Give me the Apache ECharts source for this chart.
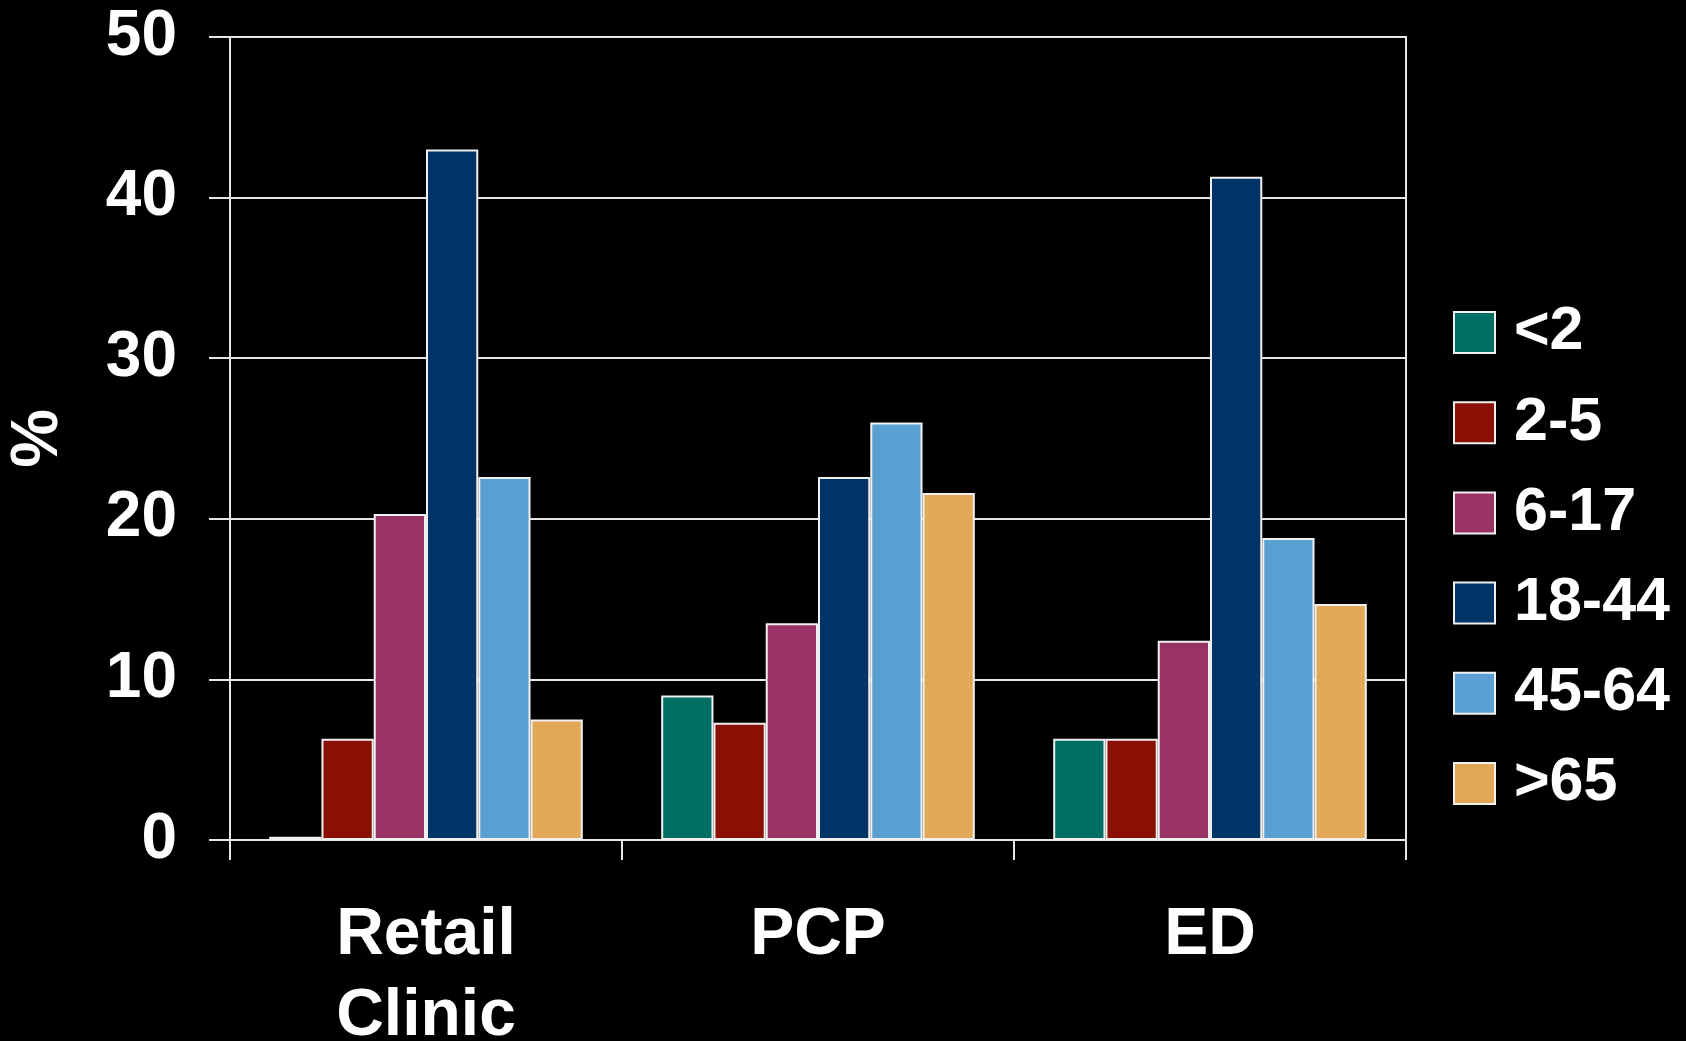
<!DOCTYPE html>
<html>
<head>
<meta charset="utf-8">
<script src="https://cdn.jsdelivr.net/npm/echarts@6/dist/echarts.min.js"></script>
<style>
  html, body { margin: 0; padding: 0; background: #000; }
  #chart { width: 1686px; height: 1041px; }
</style>
</head>
<body>
<div id="chart"></div>
<script>
// Share of visits by patient age group, per care setting (%)
var categories = ['Retail\nClinic', 'PCP', 'ED'];
var ageGroups = ['<2', '2-5', '6-17', '18-44', '45-64', '>65'];

var under2    = [0.2, 9.0, 6.3];
var age2to5   = [6.3, 7.3, 6.3];
var age6to17  = [20.3, 13.5, 12.4];
var age18to44 = [43.0, 22.6, 41.3];
var age45to64 = [22.6, 26.0, 18.8];
var over65    = [7.5, 21.6, 14.7];

var yTicks = { min: 0, max: 50, interval: 10 };

var seriesValues = [under2, age2to5, age6to17, age18to44, age45to64, over65];
var colors = ['#006e63', '#8a1004', '#993366', '#003366', '#5ba0d3', '#e2a858'];

var FONT = '"Liberation Sans", Arial, Helvetica, sans-serif';
var LINE = '#e6e6e6';

var chart = echarts.init(document.getElementById('chart'), null, { renderer: 'canvas' });

chart.setOption({
  backgroundColor: '#000000',
  animation: false,
  grid: {
    left: 230, right: 280, top: 37, bottom: 201,
    show: true, borderColor: LINE, borderWidth: 2, backgroundColor: 'transparent',
    containLabel: false, outerBoundsMode: 'none'
  },
  legend: {
    orient: 'vertical',
    left: 1453, top: 302,
    padding: 0,
    itemWidth: 41, itemHeight: 41, itemGap: 29.2,
    icon: 'rect',
    itemStyle: { borderColor: '#f0f0f0', borderWidth: 2 },
    textStyle: {
      color: '#ffffff', fontFamily: FONT, fontWeight: 'bold',
      fontSize: 61, lineHeight: 41, padding: [0, 0, 0, 14]
    },
    data: ageGroups
  },
  xAxis: {
    type: 'category',
    data: categories,
    boundaryGap: true,
    axisLine: { show: true, lineStyle: { color: LINE, width: 2 } },
    axisTick: { show: true, length: 20, alignWithLabel: false, lineStyle: { color: LINE, width: 2 } },
    axisLabel: {
      color: '#ffffff', fontFamily: FONT, fontWeight: 'bold',
      fontSize: 66, lineHeight: 81, margin: 55, interval: 0
    },
    splitLine: { show: false }
  },
  yAxis: {
    type: 'value',
    min: yTicks.min, max: yTicks.max, interval: yTicks.interval,
    name: '%',
    nameLocation: 'middle',
    nameGap: 158,
    nameRotate: 90,
    nameTextStyle: { color: '#ffffff', fontFamily: FONT, fontWeight: 'bold', fontSize: 66 },
    axisLine: { show: true, lineStyle: { color: LINE, width: 2 } },
    axisTick: { show: true, length: 21, inside: false, lineStyle: { color: LINE, width: 2 } },
    axisLabel: {
      color: '#ffffff', fontFamily: FONT, fontWeight: 'bold',
      fontSize: 64, margin: 53
    },
    splitLine: { show: true, lineStyle: { color: LINE, width: 2 } }
  },
  series: ageGroups.map(function (name, i) {
    return {
      name: name,
      type: 'bar',
      data: seriesValues[i],
      barCategoryGap: '20%',
      barGap: '0%',
      itemStyle: { color: colors[i], borderColor: '#f0f0f0', borderWidth: 2 }
    };
  })
});
</script>
</body>
</html>
